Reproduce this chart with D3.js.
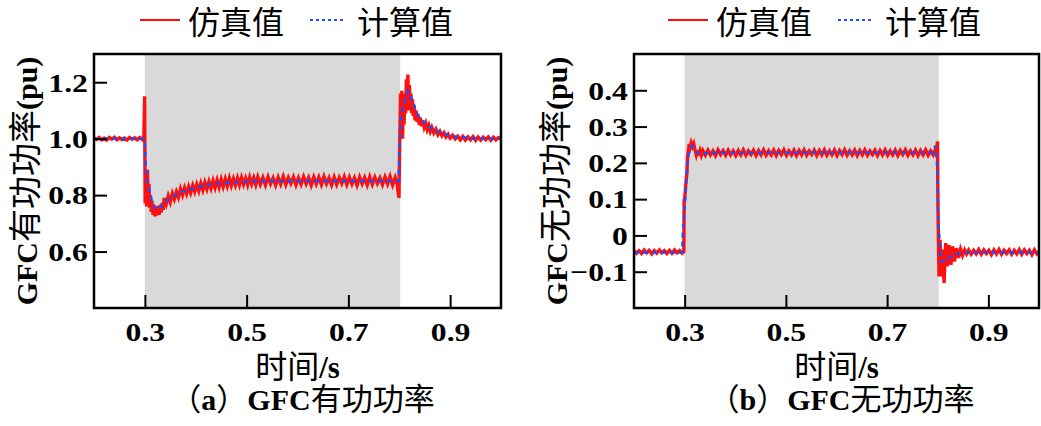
<!DOCTYPE html>
<html>
<head>
<meta charset="utf-8">
<script src="https://cdn.jsdelivr.net/npm/d3@7"></script>
<style>
  body { margin: 0; background: #fff; }
  svg { display: block; }
</style>
</head>
<body>
<svg id="chart" width="1041" height="426"></svg>
<script>
// ---- data ----
const xTicks = [0.3, 0.5, 0.7, 0.9];
const pTicks = [0.6, 0.8, 1.0, 1.2];
const qTicks = [-0.1, 0, 0.1, 0.2, 0.3, 0.4];
const shadeSpan = [0.3, 0.802];
const seriesNames = ['仿真值', '计算值'];

// active power, simulation (noisy)
const pSim = [
  [0.200,1.003],[0.205,0.997],[0.210,1.004],[0.215,0.996],[0.220,1.002],[0.225,0.995],[0.230,1.004],[0.235,0.998],
  [0.240,1.005],[0.245,0.996],[0.250,1.003],[0.255,0.997],[0.260,1.002],[0.265,0.995],[0.270,1.004],[0.275,0.998],
  [0.280,1.003],[0.285,0.996],[0.290,1.004],[0.295,0.997],[0.298,1.008],
  [0.2995,1.15],[0.3005,0.77],[0.302,0.86],[0.3035,0.76],[0.305,0.89],[0.3065,0.78],[0.308,0.84],[0.3095,0.755],
  [0.311,0.80],[0.3125,0.74],[0.314,0.78],[0.316,0.73],[0.318,0.765],[0.320,0.725],[0.322,0.76],[0.324,0.728],
  [0.326,0.762],[0.328,0.73],[0.330,0.765],[0.332,0.738],[0.334,0.772],[0.336,0.748],
  [0.338,0.790],[0.342,0.768],[0.346,0.797],[0.350,0.775],[0.354,0.806],[0.358,0.786],[0.362,0.812],[0.366,0.792],
  [0.370,0.822],[0.374,0.800],[0.378,0.826],[0.382,0.804],[0.386,0.830],[0.390,0.808],[0.394,0.834],[0.398,0.812],
  [0.402,0.838],[0.406,0.815],[0.410,0.842],[0.414,0.818],[0.418,0.845],[0.422,0.822],[0.426,0.848],[0.430,0.824],
  [0.434,0.851],[0.438,0.826],[0.442,0.853],[0.446,0.828],[0.450,0.856],[0.454,0.830],[0.458,0.857],[0.462,0.832],
  [0.466,0.860],[0.470,0.834],[0.474,0.858],[0.478,0.835],[0.482,0.861],[0.486,0.836],[0.490,0.862],[0.494,0.838],
  [0.498,0.860],[0.502,0.836],[0.506,0.863],[0.510,0.839],[0.514,0.861],[0.518,0.837],
  [0.522,0.864],[0.527,0.838],[0.532,0.862],[0.537,0.836],[0.542,0.865],[0.547,0.840],[0.552,0.861],[0.557,0.835],
  [0.562,0.863],[0.567,0.839],[0.572,0.866],[0.577,0.837],[0.582,0.862],[0.587,0.841],[0.592,0.864],[0.597,0.836],
  [0.602,0.861],[0.607,0.838],[0.612,0.865],[0.617,0.840],[0.622,0.862],[0.627,0.835],[0.632,0.864],[0.637,0.839],
  [0.642,0.863],[0.647,0.837],[0.652,0.866],[0.657,0.840],[0.662,0.861],[0.667,0.836],[0.672,0.864],[0.677,0.838],
  [0.682,0.862],[0.687,0.841],[0.692,0.865],[0.697,0.837],[0.702,0.863],[0.707,0.839],[0.712,0.861],[0.717,0.835],
  [0.722,0.864],[0.727,0.840],[0.732,0.862],[0.737,0.836],[0.742,0.865],[0.747,0.838],[0.752,0.863],[0.757,0.841],
  [0.762,0.861],[0.767,0.837],[0.772,0.864],[0.777,0.839],[0.782,0.866],[0.787,0.836],[0.792,0.862],[0.796,0.838],
  [0.7985,0.80],[0.7995,0.79],[0.8005,0.93],[0.8015,1.05],[0.8025,1.16],[0.8035,1.02],[0.805,1.17],[0.8065,1.00],
  [0.808,1.12],[0.8095,1.05],[0.811,1.16],[0.8125,1.09],[0.814,1.21],[0.8155,1.13],[0.817,1.227],[0.8185,1.10],
  [0.820,1.19],[0.8215,1.10],[0.823,1.16],[0.8245,1.09],[0.826,1.14],[0.8275,1.08],[0.829,1.12],[0.831,1.065],
  [0.833,1.10],[0.835,1.06],[0.837,1.085],[0.839,1.05],[0.841,1.075],[0.843,1.045],[0.846,1.065],[0.849,1.04],
  [0.852,1.055],[0.855,1.032],[0.858,1.047],[0.861,1.026],[0.864,1.04],[0.868,1.020],[0.872,1.033],[0.876,1.014],
  [0.880,1.026],[0.884,1.010],[0.888,1.021],[0.892,1.006],[0.896,1.016],[0.900,1.002],[0.905,1.012],[0.910,0.999],
  [0.915,1.009],[0.920,0.996],[0.925,1.008],[0.930,0.995],[0.935,1.006],[0.940,0.996],[0.945,1.007],[0.950,0.994],
  [0.955,1.006],[0.960,0.995],[0.965,1.005],[0.970,0.996],[0.975,1.006],[0.980,0.994],[0.985,1.005],[0.990,0.996],
  [0.995,1.004],[1.000,0.998]
];

// active power, calculation (smooth)
const pCalc = [
  [0.200,1.0],[0.298,1.0],[0.300,0.99],[0.3013,0.92],[0.3026,0.882],[0.3046,0.847],[0.3098,0.81],[0.3144,0.772],
  [0.320,0.755],[0.326,0.749],[0.334,0.765],[0.3425,0.78],[0.359,0.80],[0.378,0.815],[0.401,0.826],[0.421,0.836],
  [0.440,0.84],[0.463,0.844],[0.486,0.846],[0.506,0.849],[0.550,0.85],[0.7985,0.85],[0.800,0.926],[0.8013,0.997],
  [0.8033,1.08],[0.8078,1.11],[0.8163,1.168],[0.826,1.136],[0.8327,1.097],[0.8425,1.068],[0.8575,1.044],[0.877,1.025],
  [0.898,1.011],[0.9176,1.006],[0.937,1.003],[0.957,1.0],[1.000,1.0]
];

// reactive power, simulation (noisy)
const qSim = [
  [0.200,-0.041],[0.205,-0.049],[0.210,-0.042],[0.215,-0.050],[0.220,-0.040],[0.225,-0.048],[0.230,-0.041],[0.235,-0.051],
  [0.240,-0.042],[0.245,-0.049],[0.250,-0.040],[0.255,-0.048],[0.260,-0.042],[0.265,-0.050],[0.270,-0.041],[0.275,-0.049],
  [0.280,-0.040],[0.285,-0.048],[0.290,-0.042],[0.295,-0.049],[0.2985,-0.045],
  [0.299,0.098],[0.300,0.10],[0.3015,0.125],[0.303,0.153],[0.3045,0.17],[0.306,0.218],[0.3075,0.235],[0.309,0.252],
  [0.311,0.243],[0.313,0.255],[0.3155,0.245],[0.318,0.253],[0.3205,0.236],[0.323,0.222],[0.3255,0.235],[0.328,0.220],
  [0.3305,0.233],[0.333,0.221],
  [0.336,0.234],[0.341,0.221],[0.346,0.235],[0.351,0.222],[0.356,0.233],[0.361,0.220],[0.366,0.236],[0.371,0.223],
  [0.376,0.234],[0.381,0.221],[0.386,0.235],[0.391,0.222],[0.396,0.233],[0.401,0.220],[0.406,0.234],[0.411,0.222],
  [0.416,0.236],[0.421,0.221],[0.426,0.233],[0.431,0.223],[0.436,0.235],[0.441,0.220],[0.446,0.234],[0.451,0.222],
  [0.456,0.236],[0.461,0.221],[0.466,0.233],[0.471,0.222],[0.476,0.235],[0.481,0.220],[0.486,0.234],[0.491,0.223],
  [0.496,0.236],[0.501,0.221],[0.506,0.233],[0.511,0.222],[0.516,0.235],[0.521,0.220],[0.526,0.234],[0.531,0.222],
  [0.536,0.236],[0.541,0.221],[0.546,0.233],[0.551,0.223],[0.556,0.235],[0.561,0.220],[0.566,0.234],[0.571,0.222],
  [0.576,0.236],[0.581,0.221],[0.586,0.233],[0.591,0.222],[0.596,0.235],[0.601,0.220],[0.606,0.234],[0.611,0.223],
  [0.616,0.236],[0.621,0.221],[0.626,0.233],[0.631,0.222],[0.636,0.235],[0.641,0.220],[0.646,0.234],[0.651,0.222],
  [0.656,0.236],[0.661,0.221],[0.666,0.233],[0.671,0.223],[0.676,0.235],[0.681,0.220],[0.686,0.234],[0.691,0.222],
  [0.696,0.236],[0.701,0.221],[0.706,0.233],[0.711,0.222],[0.716,0.235],[0.721,0.220],[0.726,0.234],[0.731,0.223],
  [0.736,0.236],[0.741,0.221],[0.746,0.233],[0.751,0.222],[0.756,0.235],[0.761,0.220],[0.766,0.234],[0.771,0.222],
  [0.776,0.236],[0.781,0.221],[0.786,0.233],[0.791,0.222],[0.795,0.236],
  [0.7985,0.245],[0.7995,0.259],[0.8005,0.068],[0.8025,-0.113],[0.8045,-0.012],[0.807,-0.113],[0.8095,-0.039],
  [0.8125,-0.131],[0.8155,-0.021],[0.8185,-0.085],[0.822,-0.026],[0.826,-0.081],[0.8295,-0.030],[0.833,-0.072],
  [0.837,-0.035],[0.841,-0.062],[0.845,-0.038],[0.849,-0.055],[0.853,-0.040],[0.857,-0.051],
  [0.861,-0.040],[0.866,-0.052],[0.871,-0.041],[0.876,-0.051],[0.881,-0.039],[0.886,-0.052],[0.891,-0.040],[0.896,-0.050],
  [0.901,-0.041],[0.906,-0.053],[0.911,-0.040],[0.916,-0.051],[0.921,-0.039],[0.926,-0.052],[0.931,-0.041],[0.936,-0.050],
  [0.941,-0.040],[0.946,-0.052],[0.951,-0.041],[0.956,-0.051],[0.961,-0.039],[0.966,-0.052],[0.971,-0.040],[0.976,-0.050],
  [0.981,-0.041],[0.986,-0.053],[0.991,-0.040],[0.996,-0.051],[1.000,-0.044]
];

// reactive power, calculation (smooth)
const qCalc = [
  [0.200,-0.047],[0.295,-0.047],[0.2967,0.016],[0.300,0.075],[0.302,0.117],[0.3046,0.172],[0.3066,0.213],[0.3099,0.236],
  [0.3145,0.247],[0.3184,0.24],[0.323,0.229],[0.333,0.225],[0.350,0.228],[0.790,0.229],[0.795,0.247],[0.7984,0.2],
  [0.8004,0.126],[0.801,0.071],[0.8023,0.016],[0.8043,-0.026],[0.807,-0.072],[0.8193,-0.067],[0.829,-0.053],
  [0.8556,-0.047],[1.000,-0.047]
];

// ---- drawing ----
const svg = d3.select('#chart');
const LATIN = '"Liberation Serif", "Times New Roman", serif';
const CJK = '"Noto Sans CJK SC", sans-serif';
const RED = '#ff1010';
const BLUE = '#1f4fff';

// writes mixed latin / chinese text as tspans
function richText(sel, str, latinSize, cjkSize) {
  const parts = str.match(/[\u3000-\u9fff\uff00-\uffef]+|[^\u3000-\u9fff\uff00-\uffef]+/g);
  parts.forEach(p => {
    const cjk = /[\u3000-\u9fff\uff00-\uffef]/.test(p);
    sel.append('tspan')
      .attr('font-family', cjk ? CJK : LATIN)
      .attr('font-weight', cjk ? 'normal' : 'bold')
      .attr('font-size', cjk ? cjkSize : latinSize)
      .text(p);
  });
}

function drawPanel(o) {
  const x = d3.scaleLinear().domain([0.2, 1.0]).range([o.left, o.right]);
  const y = d3.scaleLinear().domain(o.yDomain).range([o.bottom, o.top]);
  const g = svg.append('g');

  const clipId = 'clip-' + o.id;
  g.append('clipPath').attr('id', clipId)
    .append('rect')
    .attr('x', o.left).attr('y', o.top)
    .attr('width', o.right - o.left).attr('height', o.bottom - o.top);

  // shaded fault window
  g.append('rect')
    .attr('x', x(shadeSpan[0])).attr('y', o.top)
    .attr('width', x(shadeSpan[1]) - x(shadeSpan[0]))
    .attr('height', o.bottom - o.top)
    .attr('fill', '#d9d9d9');

  const line = d3.line().x(d => x(d[0])).y(d => y(d[1]));
  const plot = g.append('g').attr('clip-path', `url(#${clipId})`);
  plot.append('path').datum(o.sim)
    .attr('d', line)
    .attr('fill', 'none')
    .attr('stroke', RED)
    .attr('stroke-width', 3.4);
  plot.append('path').datum(o.calc)
    .attr('d', line)
    .attr('fill', 'none')
    .attr('stroke', BLUE)
    .attr('stroke-width', 2.4)
    .attr('stroke-dasharray', '5,4');

  // inward ticks on left and bottom
  const xAxis = d3.axisBottom(x).tickValues(xTicks).tickSize(-13).tickFormat(d3.format('.1f'));
  const yAxis = d3.axisLeft(y).tickValues(o.yTicks).tickSize(-13).tickFormat(o.yFormat);

  const gx = g.append('g').attr('transform', `translate(0,${o.bottom})`).call(xAxis);
  const gy = g.append('g').attr('transform', `translate(${o.left},0)`).call(yAxis);
  [gx, gy].forEach(a => {
    a.select('.domain').remove();
    a.selectAll('.tick line').attr('stroke', '#000').attr('stroke-width', 2);
    a.selectAll('.tick text')
      .attr('font-family', LATIN)
      .attr('font-weight', 'bold')
      .attr('font-size', 26)
      .attr('fill', '#000')
      .attr('transform', 'scale(1.22,1)');
  });
  gx.selectAll('.tick text').attr('dy', null).attr('y', 33);
  gy.selectAll('.tick text').attr('x', -5).attr('dy', '0.34em');

  // frame
  g.append('rect')
    .attr('x', o.left).attr('y', o.top)
    .attr('width', o.right - o.left).attr('height', o.bottom - o.top)
    .attr('fill', 'none').attr('stroke', '#000').attr('stroke-width', 2.5);

  // y title
  const cy = (o.top + o.bottom) / 2;
  const yt = g.append('text')
    .attr('transform', `translate(${o.yTitleX},${cy}) rotate(-90)`)
    .attr('text-anchor', 'middle');
  richText(yt, o.yTitle, 30, 33);

  // x title and caption
  const cx = (o.left + o.right) / 2;
  const xt = g.append('text').attr('x', cx).attr('y', 378).attr('text-anchor', 'middle');
  richText(xt, '时间/s', 31, 32);
  const cap = g.append('text').attr('x', cx + 5).attr('y', 410).attr('text-anchor', 'middle');
  richText(cap, o.caption, 30, 31);

  // legend
  const lx = o.legendX, ly = 20;
  g.append('line').attr('x1', lx).attr('x2', lx + 40).attr('y1', ly).attr('y2', ly)
    .attr('stroke', RED).attr('stroke-width', 2.2);
  g.append('text').attr('x', lx + 48).attr('y', ly + 14)
    .attr('font-family', CJK).attr('font-size', 32).text(seriesNames[0]);
  g.append('line').attr('x1', lx + 170).attr('x2', lx + 205).attr('y1', ly).attr('y2', ly)
    .attr('stroke', BLUE).attr('stroke-width', 2.2).attr('stroke-dasharray', '3,3');
  g.append('text').attr('x', lx + 217).attr('y', ly + 14)
    .attr('font-family', CJK).attr('font-size', 32).text(seriesNames[1]);
}

drawPanel({
  id: 'p', left: 94, right: 501, top: 54, bottom: 308,
  yDomain: [0.4, 1.3], yTicks: pTicks, yFormat: d3.format('.1f'),
  sim: pSim, calc: pCalc,
  yTitle: 'GFC有功功率(pu)', yTitleX: 37,
  caption: '（a）GFC有功功率', legendX: 140
});

drawPanel({
  id: 'q', left: 634, right: 1039, top: 54, bottom: 308,
  yDomain: [-0.2, 0.5], yTicks: qTicks, yFormat: d => d === 0 ? '0' : d3.format('.1f')(d),
  sim: qSim, calc: qCalc,
  yTitle: 'GFC无功功率(pu)', yTitleX: 567,
  caption: '（b）GFC无功功率', legendX: 668
});
</script>
</body>
</html>
